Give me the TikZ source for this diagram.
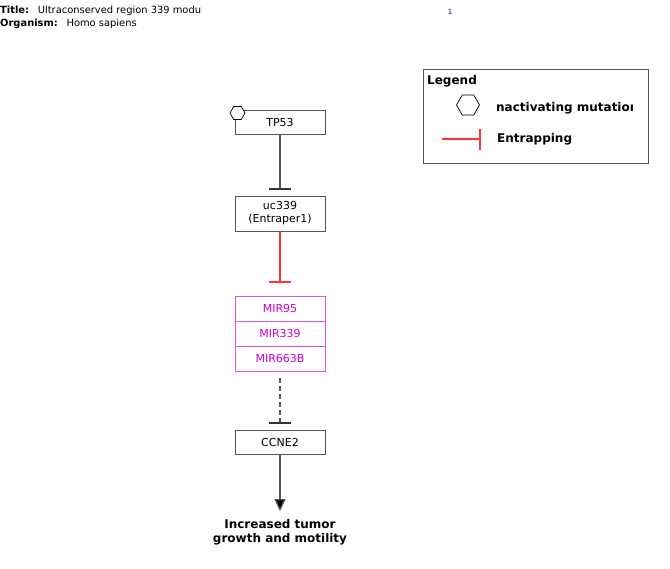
\documentclass[tikz,border=0pt]{standalone}
\usepackage{fontspec}
\setmainfont{DejaVu Sans}
\usetikzlibrary{shapes.geometric,arrows.meta,calc}
\definecolor{mirc}{HTML}{CC00CC}
\definecolor{mirline}{HTML}{DD55DD}
\definecolor{entr}{HTML}{FF3333}
\definecolor{edge}{HTML}{555555}
\tikzset{
  gene/.style={draw=edge, line width=0.9pt, minimum width=90pt, minimum height=24pt, inner sep=0pt, font=\fontsize{11}{13}\selectfont, align=center},
  mir/.style={draw=mirline, line width=0.9pt, minimum width=90pt, minimum height=25pt, inner sep=0pt, text=mirc, font=\fontsize{11}{13}\selectfont},
  hexa/.style={draw=black, regular polygon, regular polygon sides=6, shape border rotate=0, fill=white, inner sep=0pt, line width=0.7pt},
  bold/.style={font=\fontsize{12}{14}\selectfont\bfseries},
  conn/.style={draw=edge, line width=1.1pt},
  tbar/.style={line width=2pt}
}
\begin{document}
\begin{tikzpicture}[x=1pt,y=-1pt]
\useasboundingbox (0,0) rectangle (670,569);
% header
\begin{scope}
\clip (0,0) rectangle (201,30);
\node[anchor=base west, inner sep=0pt, font=\fontsize{9.9}{11}\selectfont] (title) at (0,13.5) {\textbf{Title:}\hspace{4.5pt} Ultraconserved region 339 modulates miRNA};
\node[anchor=base west, inner sep=0pt, font=\fontsize{9.9}{11}\selectfont] (org) at (0,27) {\textbf{Organism:}\hspace{4.5pt} Homo sapiens};
\end{scope}
\node[text=blue!60!black, font=\fontsize{7}{8}\selectfont, inner sep=0pt] (pg) at (450,12) {1};
% legend
\node[draw=edge, line width=0.9pt, minimum width=225pt, minimum height=94pt, anchor=north west, inner sep=0pt] (legend) at (423,69) {};
\node[bold, anchor=west, inner sep=0pt] (legt) at (427,81) {Legend};
\node[hexa, minimum width=23pt] (lhex) at (468,105) {};
\begin{scope}
\clip (496,90) rectangle (632,120);
\node[bold, anchor=west, inner sep=0pt] (lmut) at (491.5,108) {Inactivating mutation};
\end{scope}
\coordinate (lr1) at (442,139);
\coordinate (lr2) at (480,139);
\draw[entr, line width=1.1pt] (lr1) -- (lr2);
\draw[entr, line width=2pt] (480,129) -- (480,150);
\node[bold, anchor=west, inner sep=0pt] (lent) at (497,139) {Entrapping};
% genes
\node[gene] (tp53) at (280,122) {TP53};
\node[hexa, minimum width=15pt] (thex) at (237.5,113) {};
\node[gene, minimum height=35pt] (uc) at (280,213.5) {uc339\\(Entraper1)};
\node[mir] (m1) at (280,308.5) {MIR95};
\node[mir] (m2) at (280,333.5) {MIR339};
\node[mir] (m3) at (280,358.5) {MIR663B};
\node[gene] (ccne) at (280,442) {CCNE2};
\node[bold, align=center, inner sep=0pt] (out) at (280,532) {Increased tumor\\growth and motility};
% connectors
\coordinate (b1) at (280,189);
\draw[conn] (tp53.south) -- (b1);
\draw[tbar, draw=black!80] ($(b1)+(-11,0)$) -- ($(b1)+(11,0)$);
\coordinate (b2) at (280,282);
\draw[entr, line width=1.1pt] (uc.south) -- (b2);
\draw[tbar, draw=entr] ($(b2)+(-11,0)$) -- ($(b2)+(11,0)$);
\coordinate (b3) at (280,423);
\draw[conn, dashed, dash pattern=on 5pt off 3pt] ($(m3.south)+(0,7)$) -- (b3);
\draw[tbar, draw=black!80] ($(b3)+(-11,0)$) -- ($(b3)+(11,0)$);
\draw[conn, -{Triangle[length=12pt,width=11pt,fill=black]}] (ccne.south) -- (280,511);
\end{tikzpicture}
\end{document}
